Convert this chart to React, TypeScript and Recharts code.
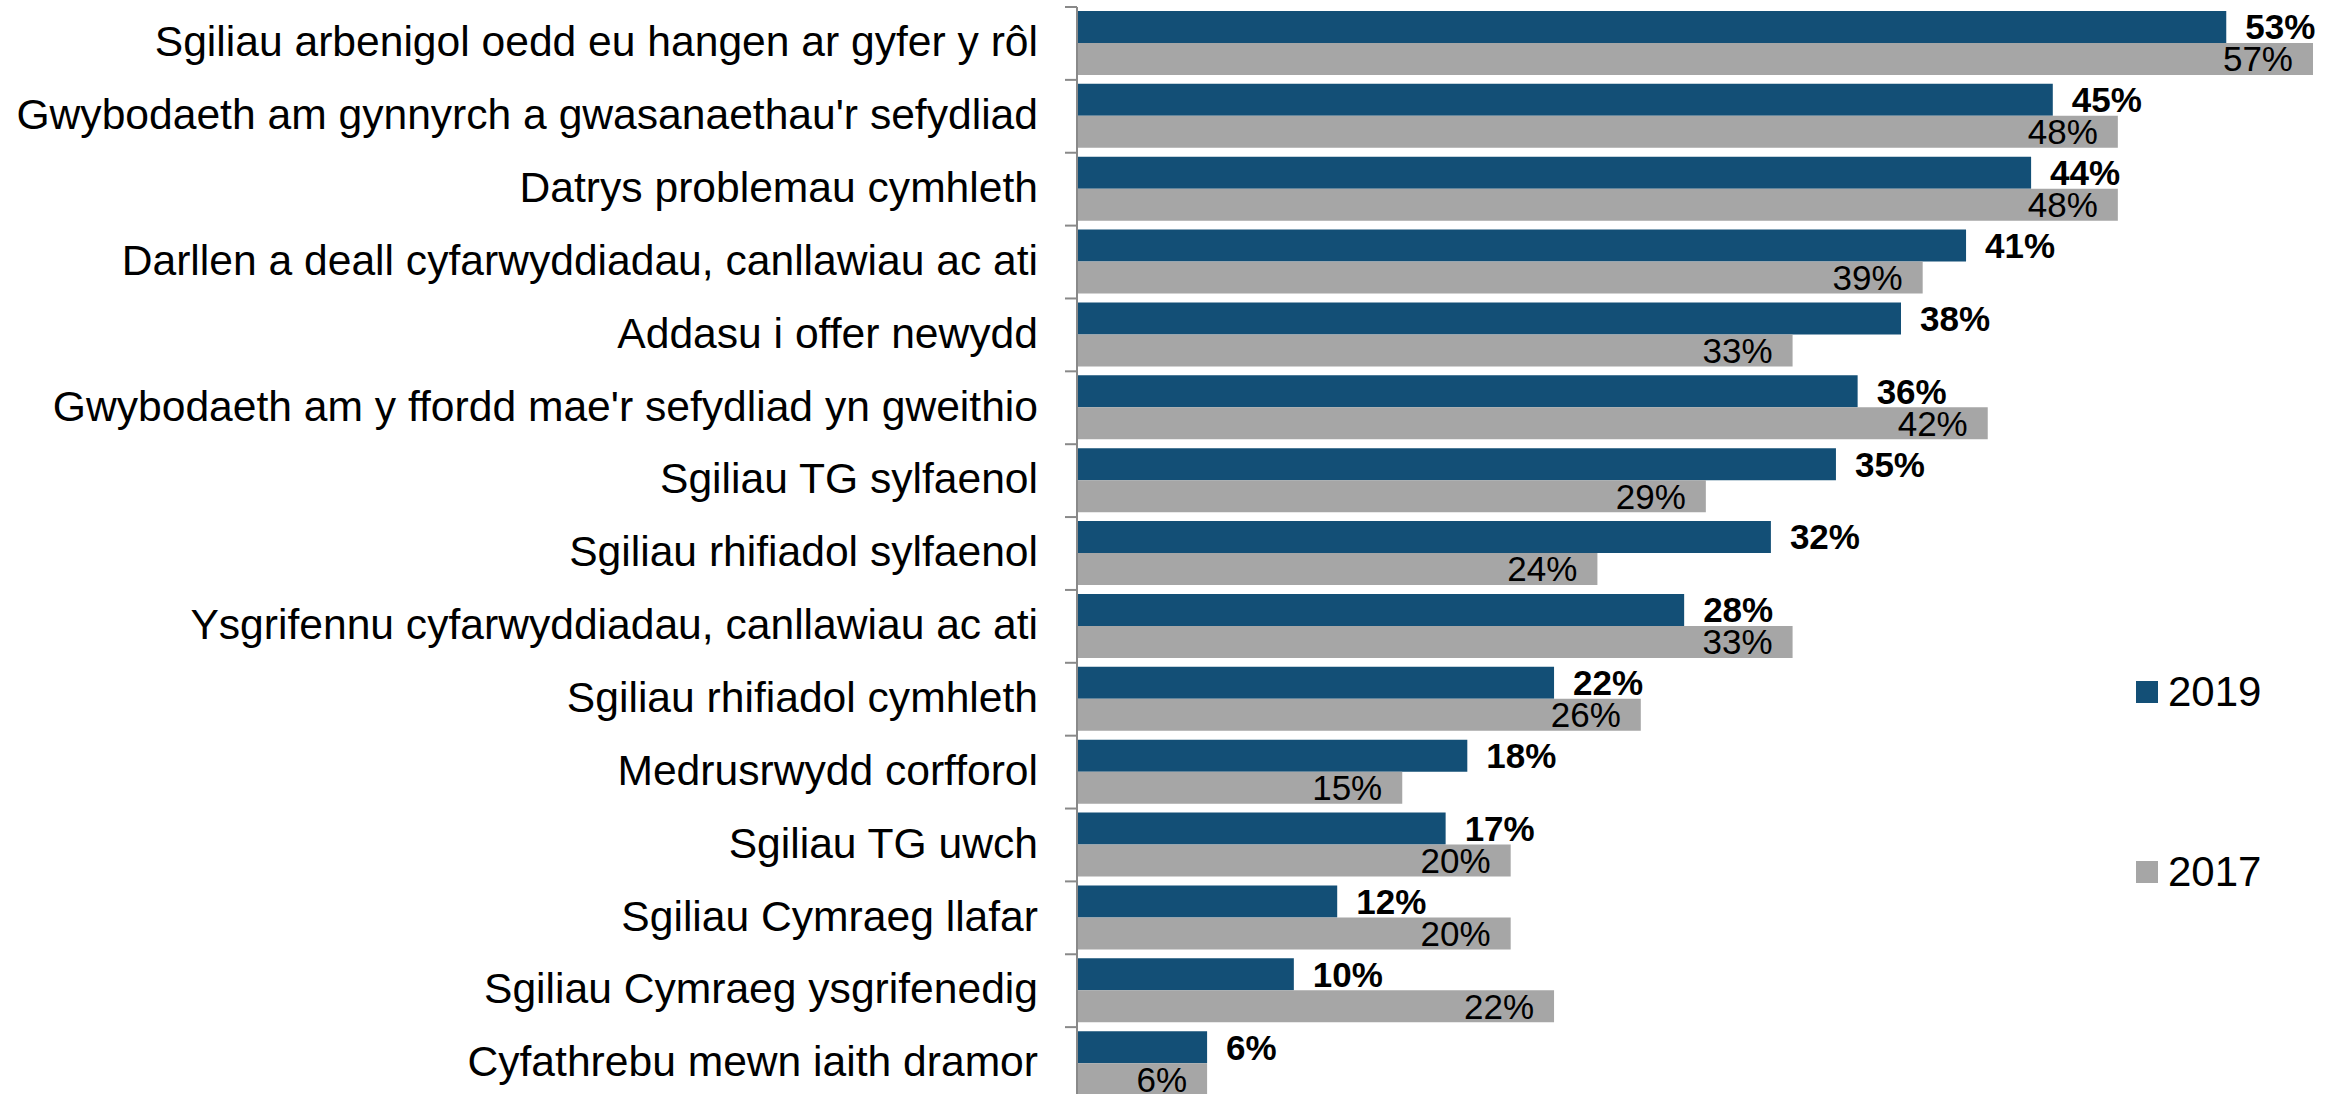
import { BarChart, Bar, XAxis, YAxis, Legend, LabelList } from 'recharts';

const categories = [
  'Sgiliau arbenigol oedd eu hangen ar gyfer y rôl',
  "Gwybodaeth am gynnyrch a gwasanaethau'r sefydliad",
  'Datrys problemau cymhleth',
  'Darllen a deall cyfarwyddiadau, canllawiau ac ati',
  'Addasu i offer newydd',
  "Gwybodaeth am y ffordd mae'r sefydliad yn gweithio",
  'Sgiliau TG sylfaenol',
  'Sgiliau rhifiadol sylfaenol',
  'Ysgrifennu cyfarwyddiadau, canllawiau ac ati',
  'Sgiliau rhifiadol cymhleth',
  'Medrusrwydd corfforol',
  'Sgiliau TG uwch',
  'Sgiliau Cymraeg llafar',
  'Sgiliau Cymraeg ysgrifenedig',
  'Cyfathrebu mewn iaith dramor',
];

const values2019 = [53, 45, 44, 41, 38, 36, 35, 32, 28, 22, 18, 17, 12, 10, 6];
const values2017 = [57, 48, 48, 39, 33, 42, 29, 24, 33, 26, 15, 20, 20, 22, 6];

const seriesNames = ['2019', '2017'];

const data = categories.map((label, i) => ({
  label,
  y2019: values2019[i],
  y2017: values2017[i],
}));

const FONT = '"Liberation Sans", Arial, Helvetica, sans-serif';
const BLUE = '#134f76';
const GREY = '#a6a6a6';
const AXIS = '#898989';

const WIDTH = 2336;
const HEIGHT = 1100;
const MARGIN = { top: 7, right: 23, bottom: 0, left: 0 };
const AXIS_WIDTH = 1077;
const TICK_SIZE = 12;
const TICK_MARGIN = 27;
const BAND = (HEIGHT - MARGIN.top - MARGIN.bottom) / categories.length;

// tick marks sit on the category boundaries, labels in the middle
function CategoryTick(props: any) {
  const { x, y, payload } = props;
  const axisX = x + TICK_MARGIN + TICK_SIZE;
  return (
    <g>
      <line
        x1={axisX - TICK_SIZE}
        x2={axisX}
        y1={y - BAND / 2}
        y2={y - BAND / 2}
        stroke={AXIS}
        strokeWidth={2}
      />
      <text
        x={x}
        y={y}
        dy="0.3em"
        textAnchor="end"
        fill="#000"
        style={{ fontSize: 42.6, fontFamily: FONT }}
      >
        {payload.value}
      </text>
    </g>
  );
}

function LegendBox() {
  const colors = [BLUE, GREY];
  return (
    <div style={{ fontFamily: FONT }}>
      {seriesNames.map((name, i) => (
        <div
          key={name}
          style={{
            display: 'flex',
            alignItems: 'center',
            height: 44,
            marginTop: i === 0 ? 0 : 136,
          }}
        >
          <span
            style={{
              display: 'inline-block',
              width: 22,
              height: 22,
              background: colors[i],
              marginRight: 10,
            }}
          />
          <span style={{ fontSize: 42, color: '#000', lineHeight: '44px' }}>{name}</span>
        </div>
      ))}
    </div>
  );
}

export default function App() {
  return (
    <div
      style={{
        position: 'absolute',
        left: 0,
        top: 0,
        width: WIDTH,
        height: 1094,
        overflow: 'hidden',
        background: '#fff',
      }}
    >
      <BarChart
        width={WIDTH}
        height={HEIGHT}
        data={data}
        layout="vertical"
        margin={MARGIN}
        barSize={32}
        barGap={0}
      >
        <XAxis type="number" domain={[0, 57]} hide />
        <YAxis
          type="category"
          dataKey="label"
          width={AXIS_WIDTH}
          interval={0}
          tickSize={TICK_SIZE}
          tickMargin={TICK_MARGIN}
          tickLine={false}
          axisLine={{ stroke: AXIS, strokeWidth: 2 }}
          tick={<CategoryTick />}
        />
        <Legend
          layout="vertical"
          align="center"
          verticalAlign="middle"
          content={<LegendBox />}
          wrapperStyle={{ left: 2136, top: 670, width: 180 }}
        />
        <Bar dataKey="y2019" name="2019" fill={BLUE} isAnimationActive={false}>
          <LabelList
            dataKey="y2019"
            position="right"
            offset={19}
            formatter={(v: any) => `${v}%`}
            style={{ fontSize: 35, fontWeight: 700, fill: '#000', fontFamily: FONT }}
          />
        </Bar>
        <Bar dataKey="y2017" name="2017" fill={GREY} isAnimationActive={false}>
          <LabelList
            dataKey="y2017"
            position="insideRight"
            offset={20}
            formatter={(v: any) => `${v}%`}
            style={{ fontSize: 35, fill: '#000', fontFamily: FONT }}
          />
        </Bar>
      </BarChart>
    </div>
  );
}
